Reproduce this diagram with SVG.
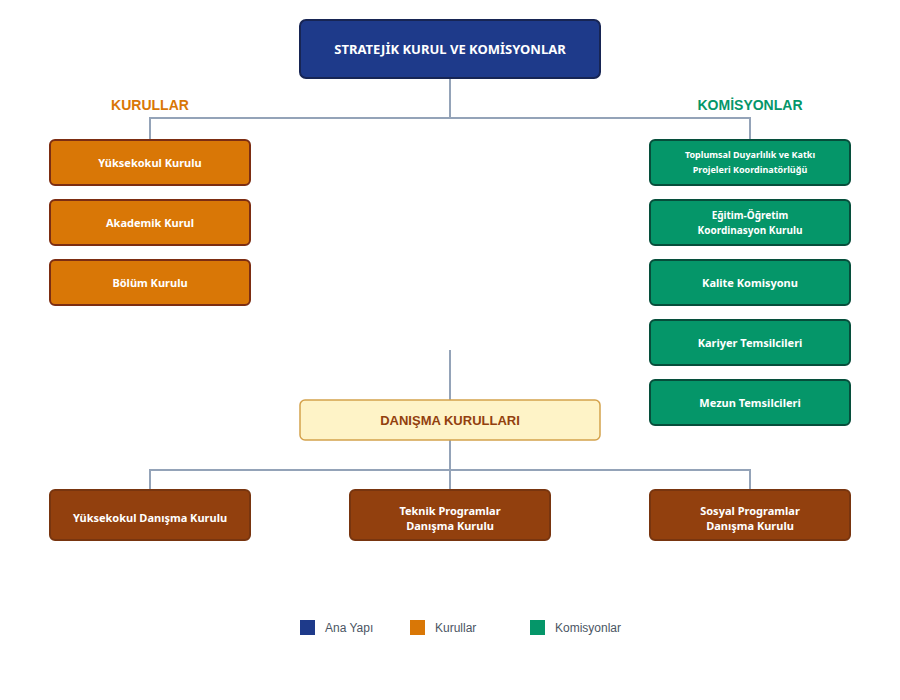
<svg xmlns="http://www.w3.org/2000/svg" width="900" height="700" viewBox="0 0 900 700">
<style>
.bx{stroke-width:2}
.main{fill:#1e3a8a;stroke:#172554}
.kur{fill:#d97706;stroke:#7c2d12}
.kom{fill:#059669;stroke:#064e3b}
.dan{fill:#fef3c7;stroke:#d4a24c;stroke-width:1.5}
.adv{fill:#92400e;stroke:#78350f}
.t{font-family:"Noto Sans","Open Sans",sans-serif;font-weight:bold;fill:#fff;text-anchor:middle}
.h{font-family:"Liberation Sans",Arial,sans-serif;font-weight:bold;font-size:14px;text-anchor:middle}
.h2{font-family:"Liberation Sans",Arial,sans-serif;font-weight:bold;font-size:13px;text-anchor:middle;fill:#92400e}
.lg{font-family:"Liberation Sans",Arial,sans-serif;font-size:12px;fill:#4b5563}
.c{fill:none;stroke:#94a3b8;stroke-width:2}
</style>
<rect width="900" height="700" fill="#fff"/>
<g id="connectors">
<path class="c" d="M450 78V118M150 140V118H750V140"/>
<path class="c" d="M450 350V400M450 440V490M150 490V470H750V490"/>
</g>
<g id="main"><rect class="bx main" x="300" y="20" width="300" height="58" rx="6"/><text class="t" x="450" y="54" font-size="13">STRATEJİK KURUL VE KOMİSYONLAR</text></g>
<text class="h" x="150" y="110" fill="#d97706">KURULLAR</text>
<text class="h" x="750" y="110" fill="#059669">KOMİSYONLAR</text>
<g id="yk"><rect class="bx kur" x="50" y="140" width="200" height="45" rx="5"/><text class="t" x="150" y="167" font-size="11">Yüksekokul Kurulu</text></g>
<g id="ak"><rect class="bx kur" x="50" y="200" width="200" height="45" rx="5"/><text class="t" x="150" y="227" font-size="11">Akademik Kurul</text></g>
<g id="bk"><rect class="bx kur" x="50" y="260" width="200" height="45" rx="5"/><text class="t" x="150" y="287" font-size="11">Bölüm Kurulu</text></g>
<g id="tdk"><rect class="bx kom" x="650" y="140" width="200" height="45" rx="5"/><text class="t" x="750" y="158" font-size="9">Toplumsal Duyarlılık ve Katkı</text><text class="t" x="750" y="173" font-size="9">Projeleri Koordinatörlüğü</text></g>
<g id="eok"><rect class="bx kom" x="650" y="200" width="200" height="45" rx="5"/><text class="t" x="750" y="219" font-size="10">Eğitim-Öğretim</text><text class="t" x="750" y="234" font-size="10">Koordinasyon Kurulu</text></g>
<g id="kk"><rect class="bx kom" x="650" y="260" width="200" height="45" rx="5"/><text class="t" x="750" y="287" font-size="11">Kalite Komisyonu</text></g>
<g id="kt"><rect class="bx kom" x="650" y="320" width="200" height="45" rx="5"/><text class="t" x="750" y="347" font-size="11">Kariyer Temsilcileri</text></g>
<g id="mt"><rect class="bx kom" x="650" y="380" width="200" height="45" rx="5"/><text class="t" x="750" y="407" font-size="11">Mezun Temsilcileri</text></g>
<g id="dan"><rect class="dan" x="300" y="400" width="300" height="40" rx="5"/><text class="h2" x="450" y="425">DANIŞMA KURULLARI</text></g>
<g id="ydk"><rect class="bx adv" x="50" y="490" width="200" height="50" rx="5"/><text class="t" x="150" y="522" font-size="11">Yüksekokul Danışma Kurulu</text></g>
<g id="tpdk"><rect class="bx adv" x="350" y="490" width="200" height="50" rx="5"/><text class="t" x="450" y="515" font-size="11">Teknik Programlar</text><text class="t" x="450" y="530" font-size="11">Danışma Kurulu</text></g>
<g id="spdk"><rect class="bx adv" x="650" y="490" width="200" height="50" rx="5"/><text class="t" x="750" y="515" font-size="11">Sosyal Programlar</text><text class="t" x="750" y="530" font-size="11">Danışma Kurulu</text></g>
<g id="legend">
<rect x="300" y="620" width="15" height="15" fill="#1e3a8a"/><text class="lg" x="325" y="632">Ana Yapı</text>
<rect x="410" y="620" width="15" height="15" fill="#d97706"/><text class="lg" x="435" y="632">Kurullar</text>
<rect x="530" y="620" width="15" height="15" fill="#059669"/><text class="lg" x="555" y="632">Komisyonlar</text>
</g>
</svg>
